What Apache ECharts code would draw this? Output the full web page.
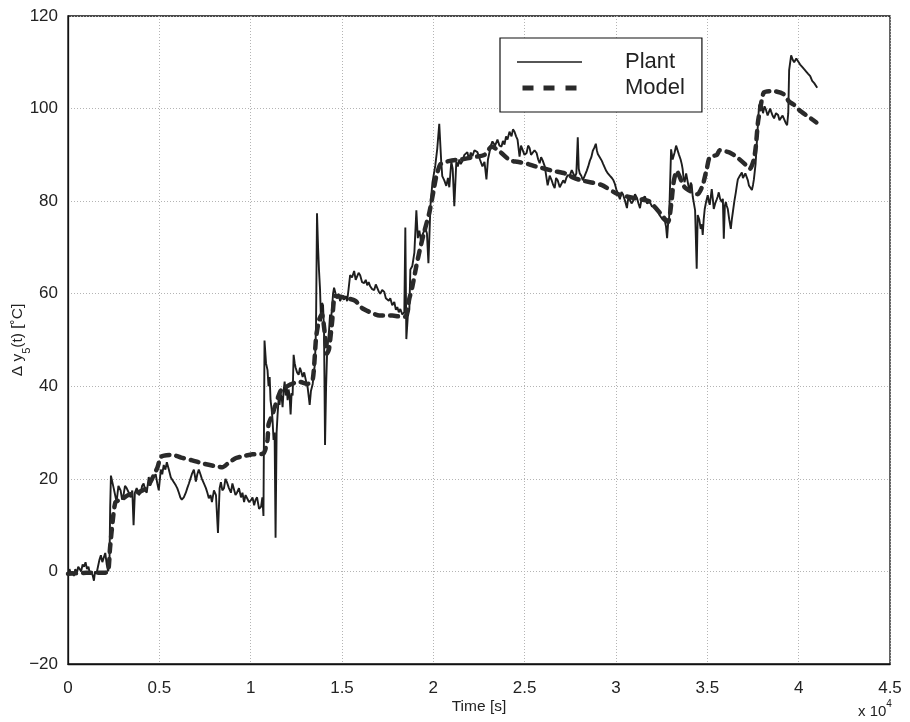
<!DOCTYPE html>
<html>
<head>
<meta charset="utf-8">
<script src="https://cdn.jsdelivr.net/npm/echarts@6/dist/echarts.min.js"></script>
<style>
  html, body { margin: 0; padding: 0; background: #ffffff; }
  #chart { width: 910px; height: 722px; }
</style>
</head>
<body>
<div id="chart"></div>
<script>
// Measured plant temperature rise [time s, delta °C]
const plant = [
  [0,-1],[80,0.5],[160,-0.5],[240,0],[320,-1],[400,0.5],[480,-0.5],[560,1],[640,0.5],[720,0],[800,1.5],[880,1],[960,2],[1040,0.5],[1120,1],[1200,-0.5],[1280,0],[1360,-1],[1420,-2],[1480,0],[1560,-0.5],[1640,1],[1720,2.5],[1800,3.5],[1880,2],[1960,3],[2040,4],[2120,1.5],[2200,0],[2270,2],[2310,14],[2350,20.7],
  [2500,18],[2660,15],[2760,18.5],[2880,17.5],[2960,15.5],[3040,16.5],[3120,18.5],[3210,18],[3330,17],[3430,16],[3520,17.5],[3590,10],[3660,17],[3760,18],[3880,16.5],[3980,17],[4060,18.5],[4140,19],[4230,17.5],[4310,17],[4420,20.4],[4500,18.5],[4580,19.7],[4700,20.5],[4800,21],[4890,19],[4970,17.5],[5080,22],[5160,21],[5240,23],[5330,22],[5410,23.6],[5520,22],[5630,20.3],[5760,19.5],[5900,18.6],[5980,18],[6070,17],[6150,16],[6230,15.5],[6340,16],[6450,17],[6530,18],[6620,19],[6700,20],[6780,21],[6890,22],[7000,19.4],[7080,21],[7160,22],[7250,21],[7330,20],[7440,19],[7550,18],[7630,17],[7710,15.8],[7800,16.5],[7880,15],[7990,17.5],[8100,16.5],[8210,8.3],[8300,18],[8370,19.3],[8450,17.5],[8540,18],[8620,20],[8700,19.3],[8810,18],[8920,17],[9000,19],[9090,18.6],[9170,16.5],[9250,17],[9360,18],[9470,16],[9550,17],[9640,15],[9720,16.5],[9800,16.5],[9910,15],[10020,15.4],[10100,16],[10190,14.3],[10270,15.5],[10350,16],[10460,13.5],[10570,14],[10640,16],[10700,12],
  [10758,49.9],[10840,45],[10923,43.5],[10978,40],[11040,42],[11088,37],[11150,35],[11198,32.7],[11253,28.4],[11310,30],[11363,7.3],[11420,30],[11473,33.9],[11527,37],[11580,36],[11637,38.3],[11700,37.5],[11747,35.5],[11802,39],[11860,41],[11920,38],[11970,40],[12022,37],[12077,39.3],[12130,38],[12187,33.9],[12240,38.5],[12297,38],[12352,46.8],[12410,45],[12462,44],[12540,43],[12626,42.5],[12700,44],[12780,43],[12846,42],[12930,43],[13011,41.5],[13070,40.5],[13121,39.7],[13180,40],[13231,36],[13300,39],[13396,40.5],[13451,42.5],
  [13520,45],[13577,52.7],[13632,77.4],[13690,70],[13742,65],[13797,61],[13852,54],[13910,58],[13962,57.5],[14016,52],[14071,27.3],[14130,40],[14181,46.8],[14240,50],[14291,52],[14346,55.5],[14400,54.5],[14456,57],[14510,60],[14566,61.3],[14650,60],[14731,59],[14810,60],[14896,58.4],[15000,59.5],[15115,58.7],[15200,59.5],[15280,58.4],[15360,61],[15445,64],[15550,63.5],[15665,64.9],[15750,63],[15830,63.3],[15910,64.5],[15995,64],[16100,62.5],[16214,62.3],[16300,63],[16379,61.8],[16460,62.5],[16544,61.6],[16650,61],[16764,60.8],[16850,62],[16929,61.8],[17010,60.5],[17093,60],[17200,60.8],[17313,60.4],[17400,59],[17478,59.4],[17560,58.5],[17643,59],[17750,57.5],[17863,58.2],[17950,56.5],[18027,57.1],[18110,56],[18192,56.7],[18300,55.5],[18412,56],[18467,74.3],[18522,50.2],[18600,55],[18687,56.6],[18742,65.2],[18850,66],[18962,68.9],[19071,78],[19150,72],[19236,73.6],[19320,71.5],[19401,72.7],[19480,73],[19566,74.2],[19650,73],[19731,66.6],[19790,73],[19841,79],
  [19950,84],[20104,87.6],[20214,91.3],[20324,96.7],[20434,88.4],[20489,85.4],[20600,84.5],[20709,83.3],[20800,85],[20874,83],[20984,88.5],[21060,87],[21148,78.9],[21258,88.5],[21340,87.5],[21423,89],[21500,88],[21588,88.6],[21700,90],[21863,90.6],[21950,89],[22050,90.5],[22137,89.7],[22250,91],[22412,90.6],[22550,89],[22687,87.5],[22800,88.5],[22907,84.7],[22990,89],[23071,90.5],[23150,92],[23236,92.9],[23380,92],[23511,93.3],[23620,92],[23731,91.8],[23810,93],[23896,92.2],[23980,94],[24060,93.3],[24170,95],[24280,94],[24360,95.5],[24445,95],[24530,94],[24610,93.3],[24720,89.6],[24800,92],[24885,91.8],[24990,90],[25104,90.4],[25190,92],[25269,91.5],[25350,90],[25434,89.6],[25540,91],[25654,90.4],[25740,89],[25819,88.2],[25900,89.5],[25984,88.8],[26100,87.5],[26203,87.1],[26258,83.4],[26370,85.5],[26478,84.5],[26560,83.5],[26643,82.8],[26720,85],[26808,84.5],[26920,83],[27027,82.8],[27110,84.5],[27192,83.9],[27280,85],[27357,85.6],[27470,85.5],[27577,86.7],[27660,86],[27742,85.2],[27830,86],[27907,93.8],[27960,87],[28016,86],[28100,85.5],[28181,84.5],[28290,85.5],[28401,86.6],[28480,87.5],[28566,88.7],[28650,89.5],[28731,90.9],[28810,91.5],[28896,92.4],[28950,91],[29005,90.2],[29110,89.5],[29225,88.7],[29300,88],[29390,87.2],[29470,86.5],[29555,86],[29660,85.5],[29775,85],[29860,84.5],[29940,83.7],[30020,82.5],[30104,81.7],[30160,81],[30214,80.4],[30300,82],[30379,81.5],[30500,80],[30599,78.5],[30680,81],[30764,81.1],[30850,79.5],[30929,80],[31040,81.5],[31148,80.7],[31230,79.5],[31313,78.5],[31400,80.5],[31478,80.4],[31590,81],[31698,79.5],[31830,80],[31972,78.8],[32100,79],[32247,78.2],[32380,77],[32522,76.2],[32600,76.5],[32687,75.5],[32740,74.5],[32797,72],[32850,75],[32907,76.2],[33016,91.2],
  [33100,89],[33209,90.5],[33290,92],[33374,91.6],[33450,90],[33538,89],[33600,88],[33648,86.9],[33700,85],[33758,84.1],[33840,86],[33923,85.6],[33980,83],[34033,82],[34090,84],[34143,83.5],[34200,81],[34253,79.8],[34330,78],[34418,65.4],[34473,77],[34560,76],[34637,74],[34700,75],[34747,72.7],[34800,76],[34857,78.3],[34940,80],[35022,81.3],[35080,80],[35132,79.2],[35190,81],[35242,82.6],[35300,80.5],[35352,78.3],[35430,79.5],[35516,80.4],[35570,81],[35626,81.9],[35700,80.5],[35791,79.8],[35850,80.5],[35901,71.9],[35960,79],[36011,79.8],[36060,79],[36121,78.3],[36200,76],[36286,74],[36340,76],[36396,77.6],[36480,80],[36560,81.9],[36620,83.5],[36670,84.7],[36780,85.5],[36890,86.2],[36950,85],[37000,84.7],[37080,86],[37165,85.6],[37220,84.5],[37275,83.4],[37360,83],[37440,82.4],[37500,83.5],[37549,84.7],
  [37640,88],[37720,93.3],[37830,100.6],[37940,101.6],[38049,99],[38130,100.5],[38214,99.7],[38300,98.5],[38379,98.4],[38440,100],[38489,99.4],[38570,98.5],[38654,97.9],[38760,99],[38874,98.6],[38950,97.5],[39038,97.3],[39120,98.5],[39203,98.4],[39280,97],[39368,96.4],[39430,99],[39478,108.3],[39588,111.5],[39680,110.5],[39753,110],[39870,110.8],[39973,110.5],[40080,109.5],[40192,109],[40300,108.5],[40412,108],[40520,107.5],[40632,107],[40740,106],[40852,105.5],[41016,104.5]
];

// Model prediction [time s, delta °C]
const model = [
  [0,-0.5],[1000,-0.3],[2000,-0.3],[2200,0],[2300,5],[2450,11],[2600,15],[2900,15.5],[3300,16.5],[3900,17.2],[4300,18],[4600,20],[4900,22.5],[5100,24.8],[5700,25.2],[6200,24.6],[6800,24],[7400,23.3],[8000,22.8],[8450,22.5],[8800,23.5],[9200,24.5],[9700,25],[10100,25.3],[10700,25.5],
  [10920,28.4],[10980,31.8],[11200,34],[11360,36],[11640,39],[11910,39.8],[12190,40.4],[12630,41],[13120,40.5],[13400,41.5],[13580,50.5],[13740,54.3],[13900,55.6],[14070,51],[14180,47],[14290,48],[14460,54],[14620,59.5],[15000,59.3],[15720,58.5],[16100,56.9],[16650,55.8],[17040,55.3],[17750,55.3],[18300,55],[18470,55],
  [18690,59],[18850,61.5],[19070,66],[19290,70],[19510,73.5],[19780,77.5],[20000,82],[20170,85.5],[20400,88],[20900,88.7],[21500,89],[22200,89.5],[22800,90],[23200,91.8],[23700,90.5],[24200,88.8],[24600,88.5],[25200,88],[25600,87.5],[26600,86.5],[27200,86],[27700,85],[28100,84.5],[29200,83.5],[30100,81.5],[31200,80.5],[31800,80],[32400,77.5],[32850,75.5],
  [33040,80],[33150,84],[33320,86.5],[33760,83],[34470,81.5],[34750,83.5],[34970,87],[35130,89.5],[35520,90],[35680,91],[36230,90.5],[36620,89.5],[37060,88],[37330,87],[37550,89],[37660,92],[37770,97],[37940,101],[38100,103.5],[38600,103.8],[39150,103.2],[39480,101.5],[39750,100.8],[40030,99.7],[40400,98.6],[40690,97.8],[40970,97]
];

const seriesNames = ['Plant', 'Model'];
const timeTicks = [0, 5000, 10000, 15000, 20000, 25000, 30000, 35000, 40000, 45000];
const tempTicks = [-20, 0, 20, 40, 60, 80, 100, 120];

const FONT = 'Liberation Sans, Arial, Helvetica, sans-serif';
const INK = '#222';

// Legend keys: a thin solid stroke and three heavy dashes
const SOLID_KEY = 'path://M0,0h65v1.3h-65z';
const DASH_KEY = 'path://M0,0h11v5h-11zM21,0h11v5h-11zM43,0h11v5h-11z';

const chart = echarts.init(document.getElementById('chart'), null, { renderer: 'canvas' });

chart.setOption({
  backgroundColor: '#ffffff',
  animation: false,
  grid: {
    left: 68, right: 20, top: 16, bottom: 58,
    outerBoundsMode: 'none',
    containLabel: false,
    show: true, borderColor: '#111', borderWidth: 1.3, backgroundColor: 'transparent'
  },
  xAxis: {
    type: 'value',
    min: timeTicks[0],
    max: timeTicks[timeTicks.length - 1],
    interval: timeTicks[1] - timeTicks[0],
    name: 'Time [s]',
    nameLocation: 'middle',
    nameGap: 35,
    nameMoveOverlap: false,
    nameTextStyle: { fontFamily: FONT, fontSize: 15.5, color: INK },
    axisLine: { show: true, onZero: false, lineStyle: { color: '#111', width: 1.3 } },
    axisTick: { show: false },
    axisLabel: {
      fontFamily: FONT, fontSize: 17, color: INK, margin: 16,
      formatter: v => String(v / 10000)
    },
    splitLine: { show: true, lineStyle: { color: '#b4b4b4', type: [1, 2], width: 1 } }
  },
  yAxis: {
    type: 'value',
    min: tempTicks[0],
    max: tempTicks[tempTicks.length - 1],
    interval: tempTicks[1] - tempTicks[0],
    name: '{a|Δ y}{s|5}{a|(t) [˚C]}',
    nameLocation: 'middle',
    nameGap: 36,
    nameMoveOverlap: false,
    nameTextStyle: {
      fontFamily: FONT, color: INK,
      rich: {
        a: { fontFamily: FONT, fontSize: 15.5, color: INK, lineHeight: 22, verticalAlign: 'top' },
        s: { fontFamily: FONT, fontSize: 11, color: INK, lineHeight: 22, verticalAlign: 'bottom', padding: [8, 0, 0, 0] }
      }
    },
    axisLine: { show: true, onZero: false, lineStyle: { color: '#111', width: 1.3 } },
    axisTick: { show: false },
    axisLabel: {
      fontFamily: FONT, fontSize: 17, color: INK, margin: 10,
      formatter: v => String(v).replace('-', '\u2212')
    },
    splitLine: { show: true, lineStyle: { color: '#b4b4b4', type: [1, 2], width: 1 } }
  },
  legend: {
    orient: 'vertical',
    left: 500, top: 38,
    padding: [13, 17, 13, 17],
    itemWidth: 65, itemHeight: 5, itemGap: 4,
    symbolKeepAspect: true,
    backgroundColor: '#ffffff',
    borderColor: '#111', borderWidth: 1.2,
    selectedMode: false,
    textStyle: { fontFamily: FONT, fontSize: 22, color: INK, lineHeight: 22, padding: [0, 0, 0, 38] },
    data: [
      { name: seriesNames[0], icon: SOLID_KEY },
      { name: seriesNames[1], icon: DASH_KEY }
    ]
  },
  graphic: [{
    type: 'text',
    left: 858, top: 699,
    style: {
      text: '{a|x 10}{s|4}',
      rich: {
        a: { fontFamily: FONT, fontSize: 15, fill: INK, lineHeight: 20, verticalAlign: 'bottom' },
        s: { fontFamily: FONT, fontSize: 10, fill: INK, lineHeight: 20, verticalAlign: 'top' }
      }
    }
  }],
  series: [
    {
      name: seriesNames[0],
      type: 'line',
      data: plant,
      showSymbol: false,
      symbol: 'none',
      lineStyle: { color: '#1e1e1e', width: 1.9 },
      itemStyle: { color: '#1e1e1e' },
      z: 3
    },
    {
      name: seriesNames[1],
      type: 'line',
      data: model,
      showSymbol: false,
      symbol: 'none',
      smooth: 0.2,
      lineStyle: { color: '#2a2a2a', width: 4.5, type: [8, 7], cap: 'round' },
      itemStyle: { color: '#2a2a2a' },
      z: 4
    }
  ]
});
</script>
</body>
</html>
